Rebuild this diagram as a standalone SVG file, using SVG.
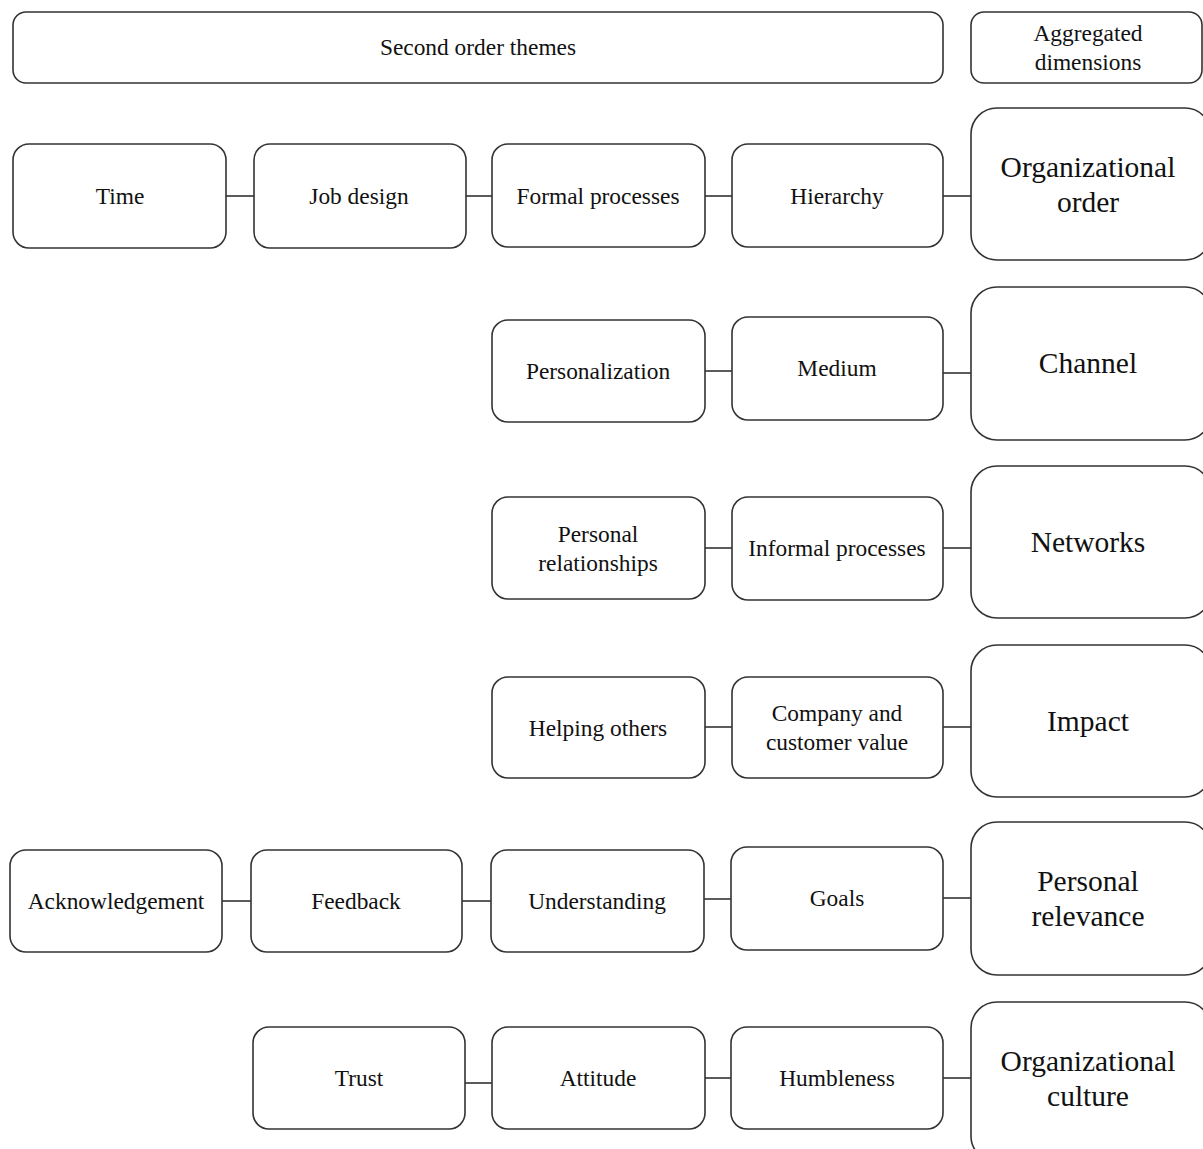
<svg xmlns="http://www.w3.org/2000/svg" width="1203" height="1149" viewBox="0 0 1203 1149">
  <style>
    .box { fill: #fff; stroke: #333; stroke-width: 1.6; }
    .t { font-family: "Liberation Serif", "Times New Roman", serif; font-size: 23.4px; fill: #111; text-anchor: middle; }
    .big { font-family: "Liberation Serif", "Times New Roman", serif; font-size: 29.5px; fill: #111; text-anchor: middle; }
    .conn line { stroke: #333; stroke-width: 1.6; }
  </style>
  <rect width="1203" height="1149" fill="#fff"/>

  <!-- header -->
  <g id="hdr-themes"><rect class="box" x="13" y="12" width="930" height="71" rx="13"/><text class="t" x="478" y="55">Second order themes</text></g>
  <g id="hdr-dims"><rect class="box" x="971" y="12" width="231" height="71" rx="13"/><text class="t" x="1088" y="41">Aggregated</text><text class="t" x="1088" y="70">dimensions</text></g>

  <!-- connectors -->
  <g class="conn" id="connectors">
    <line x1="226" y1="196" x2="254" y2="196"/>
    <line x1="466" y1="196" x2="492" y2="196"/>
    <line x1="705" y1="196" x2="732" y2="196"/>
    <line x1="943" y1="196" x2="971" y2="196"/>
    <line x1="705" y1="371" x2="732" y2="371"/>
    <line x1="943" y1="373" x2="971" y2="373"/>
    <line x1="705" y1="548" x2="732" y2="548"/>
    <line x1="943" y1="548" x2="971" y2="548"/>
    <line x1="705" y1="727" x2="732" y2="727"/>
    <line x1="943" y1="727" x2="971" y2="727"/>
    <line x1="222" y1="901" x2="251" y2="901"/>
    <line x1="462" y1="901" x2="491" y2="901"/>
    <line x1="704" y1="899" x2="731" y2="899"/>
    <line x1="943" y1="898" x2="971" y2="898"/>
    <line x1="465" y1="1083" x2="492" y2="1083"/>
    <line x1="705" y1="1078" x2="731" y2="1078"/>
    <line x1="943" y1="1078" x2="971" y2="1078"/>
  </g>

  <!-- row 1 -->
  <g id="n-time"><rect class="box" x="13" y="144" width="213" height="104" rx="16"/><text class="t" x="120" y="204">Time</text></g>
  <g id="n-job"><rect class="box" x="254" y="144" width="212" height="104" rx="16"/><text class="t" x="359" y="204">Job design</text></g>
  <g id="n-formal"><rect class="box" x="492" y="144" width="213" height="103" rx="16"/><text class="t" x="598" y="204">Formal processes</text></g>
  <g id="n-hier"><rect class="box" x="732" y="144" width="211" height="103" rx="16"/><text class="t" x="837" y="204">Hierarchy</text></g>
  <g id="d-order"><rect class="box" x="971" y="108" width="240" height="152" rx="26"/><text class="big" x="1088" y="177">Organizational</text><text class="big" x="1088" y="212">order</text></g>

  <!-- row 2 -->
  <g id="n-pers"><rect class="box" x="492" y="320" width="213" height="102" rx="16"/><text class="t" x="598" y="379">Personalization</text></g>
  <g id="n-medium"><rect class="box" x="732" y="317" width="211" height="103" rx="16"/><text class="t" x="837" y="376">Medium</text></g>
  <g id="d-channel"><rect class="box" x="971" y="287" width="240" height="153" rx="26"/><text class="big" x="1088" y="373">Channel</text></g>

  <!-- row 3 -->
  <g id="n-relat"><rect class="box" x="492" y="497" width="213" height="102" rx="16"/><text class="t" x="598" y="542">Personal</text><text class="t" x="598" y="571">relationships</text></g>
  <g id="n-informal"><rect class="box" x="732" y="497" width="211" height="103" rx="16"/><text class="t" x="837" y="556">Informal processes</text></g>
  <g id="d-networks"><rect class="box" x="971" y="466" width="240" height="152" rx="26"/><text class="big" x="1088" y="552">Networks</text></g>

  <!-- row 4 -->
  <g id="n-helping"><rect class="box" x="492" y="677" width="213" height="101" rx="16"/><text class="t" x="598" y="736">Helping others</text></g>
  <g id="n-value"><rect class="box" x="732" y="677" width="211" height="101" rx="16"/><text class="t" x="837" y="721">Company and</text><text class="t" x="837" y="750">customer value</text></g>
  <g id="d-impact"><rect class="box" x="971" y="645" width="240" height="152" rx="26"/><text class="big" x="1088" y="731">Impact</text></g>

  <!-- row 5 -->
  <g id="n-ack"><rect class="box" x="10" y="850" width="212" height="102" rx="16"/><text class="t" x="116" y="909">Acknowledgement</text></g>
  <g id="n-feedback"><rect class="box" x="251" y="850" width="211" height="102" rx="16"/><text class="t" x="356" y="909">Feedback</text></g>
  <g id="n-underst"><rect class="box" x="491" y="850" width="213" height="102" rx="16"/><text class="t" x="597" y="909">Understanding</text></g>
  <g id="n-goals"><rect class="box" x="731" y="847" width="212" height="103" rx="16"/><text class="t" x="837" y="906">Goals</text></g>
  <g id="d-relevance"><rect class="box" x="971" y="822" width="240" height="153" rx="26"/><text class="big" x="1088" y="891">Personal</text><text class="big" x="1088" y="926">relevance</text></g>

  <!-- row 6 -->
  <g id="n-trust"><rect class="box" x="253" y="1027" width="212" height="102" rx="16"/><text class="t" x="359" y="1086">Trust</text></g>
  <g id="n-attitude"><rect class="box" x="492" y="1027" width="213" height="102" rx="16"/><text class="t" x="598" y="1086">Attitude</text></g>
  <g id="n-humble"><rect class="box" x="731" y="1027" width="212" height="102" rx="16"/><text class="t" x="837" y="1086">Humbleness</text></g>
  <g id="d-culture"><rect class="box" x="971" y="1002" width="240" height="160" rx="26"/><text class="big" x="1088" y="1071">Organizational</text><text class="big" x="1088" y="1106">culture</text></g>
</svg>
